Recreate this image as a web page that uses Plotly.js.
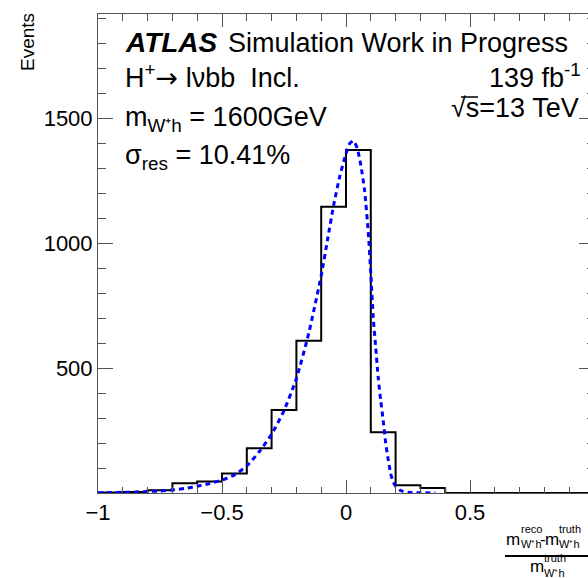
<!DOCTYPE html>
<html>
<head>
<meta charset="utf-8">
<script src="https://cdn.plot.ly/plotly-3.0.1.min.js"></script>
<style>
html,body{margin:0;padding:0;overflow:hidden;background:#fff;}
#chart{width:620px;height:578px;}
</style>
</head>
<body>
<div id="chart"></div>
<script>
// ---- data ----
const binLowEdges = [-1.0,-0.9,-0.8,-0.7,-0.6,-0.5,-0.4,-0.3,-0.2,-0.1,0.0,0.1,0.2,0.3,0.4,0.5,0.6,0.7,0.8,0.9];
const binUpperEnd = 1.0;
const binCounts = [2,4,11,39,46,78,179,332,609,1145,1372,243,31,20,0,0,0,0,0,0];

const fitX = [-1.0,-0.95,-0.9,-0.85,-0.8,-0.75,-0.7,-0.65,-0.6,-0.55,-0.5,-0.45,-0.4,-0.35,-0.3,-0.25,-0.2,-0.15,-0.1,-0.075,-0.05,-0.025,0.0,0.015,0.03,0.045,0.06,0.075,0.09,0.1,0.11,0.12,0.13,0.14,0.15,0.16,0.17,0.18,0.19,0.2,0.22,0.25,0.3,0.36];
const fitY = [1,2,3,4,6,8,12,18,27,38,52,72,108,165,235,330,458,640,870,1010,1150,1267,1358,1398,1408,1380,1310,1210,1040,880,700,580,460,370,290,200,135,78,45,28,10,3,1,0];

const yTickVals = [0,500,1000,1500];
const yTickText = ['', '500', '1000', '1500'];

// ---- geometry helpers (pixel -> paper) ----
const FIG_W = 620, FIG_H = 578;
const M = {l:98, r:26, t:14, b:85};
const PW = FIG_W - M.l - M.r, PH = FIG_H - M.t - M.b;
const BOTTOM = FIG_H - M.b;
const xp = X => (X - M.l) / PW;
const yp = Y => (BOTTOM - Y) / PH;

const FONT = 'Liberation Sans, Arial, Helvetica, sans-serif';

function ann(text, X, Ybase, size, xanchor, opts) {
  opts = opts || {};
  const ya = opts.yanchor || 'bottom';
  let Y;
  if (ya === 'bottom') Y = Ybase + 0.212 * size;
  else if (ya === 'top') Y = Ybase - 0.905 * size;
  else Y = Ybase;
  return Object.assign({
    text: text, xref: 'paper', yref: 'paper', x: xp(X), y: yp(Y),
    xanchor: xanchor, yanchor: ya, showarrow: false, borderpad: 0,
    font: {family: FONT, size: size, color: '#000'}
  }, opts.extra || {});
}

// histogram step line
const stepX = binLowEdges.concat([binUpperEnd]);
const stepY = binCounts.concat([binCounts[binCounts.length - 1]]);

const traces = [
  {x: stepX, y: stepY, type: 'scatter', mode: 'lines',
   line: {shape: 'hv', color: '#000', width: 2}, hoverinfo: 'skip', showlegend: false},
  {x: fitX, y: fitY, type: 'scatter', mode: 'lines',
   line: {color: '#0000ff', width: 3, dash: '5px,4px', shape: 'spline', smoothing: 0.6},
   hoverinfo: 'skip', showlegend: false}
];

const annotations = [
  ann('<b><i>ATLAS</i></b>', 124, 53, 28, 'left'),
  ann('Simulation Work in Progress', 227, 53, 27, 'left'),
  ann('H<sup>+</sup><span style="font-family:DejaVu Sans">→</span> lνbb\u00a0\u00a0Incl.', 124, 88, 27, 'left'),
  ann('m<sub>W⁺h</sub> = 1600GeV', 124, 125, 27, 'left', {yanchor: 'top'}),
  ann('σ<sub>res</sub> = 10.41%', 124, 163, 27, 'left', {yanchor: 'top'}),
  ann('139 fb<sup>-1</sup>', 582, 88, 27, 'right'),
  ann('√s=13 TeV', 580, 118, 27, 'right'),
  // y axis title
  {text: 'Events', xref: 'paper', yref: 'paper', x: xp(27), y: yp(12),
   xanchor: 'center', yanchor: 'top', textangle: -90, showarrow: false, borderpad: 0,
   font: {family: FONT, size: 19, color: '#000'}},
  // x axis title (fraction)
  ann('m', 505, 546, 17, 'left'),
  ann('reco', 520, 534, 11, 'left'),
  ann('W⁺h', 520, 549, 11, 'left'),
  ann('-', 539, 546, 17, 'left'),
  ann('m', 544, 546, 17, 'left'),
  ann('truth', 558, 534, 11, 'left'),
  ann('W⁺h', 558, 549, 11, 'left'),
  ann('m', 529, 573, 17, 'left'),
  ann('truth', 543, 563, 11, 'left'),
  ann('W⁺h', 543, 578, 11, 'left')
];

const shapes = [
  {type: 'line', xref: 'paper', yref: 'paper', x0: xp(505), x1: xp(610), y0: yp(556), y1: yp(556),
   line: {color: '#000', width: 2}},
  // overline of the square root sign
  {type: 'line', xref: 'paper', yref: 'paper', x0: xp(461), x1: xp(478), y0: yp(97), y1: yp(97),
   line: {color: '#000', width: 1.5}}
];

const axisCommon = {
  showline: true, linecolor: '#555', linewidth: 1, mirror: 'allticks',
  ticks: 'inside', tickcolor: '#555', tickwidth: 1,
  showgrid: false, zeroline: false,
  tickfont: {family: FONT, size: 22, color: '#000'}
};

const layout = {
  width: FIG_W, height: FIG_H,
  margin: M,
  paper_bgcolor: '#fff', plot_bgcolor: '#fff',
  showlegend: false,
  xaxis: Object.assign({}, axisCommon, {
    range: [-1, 1], tickmode: 'linear', tick0: 0, dtick: 0.5, ticklen: 13,
    minor: {dtick: 0.1, tick0: 0, ticklen: 6.5, ticks: 'inside', tickcolor: '#555', tickwidth: 1}
  }),
  yaxis: Object.assign({}, axisCommon, {
    range: [0, 1916], tickmode: 'array', tickvals: yTickVals, ticktext: yTickText, ticklen: 15,
    minor: {dtick: 100, tick0: 0, ticklen: 7.5, ticks: 'inside', tickcolor: '#555', tickwidth: 1}
  }),
  annotations: annotations,
  shapes: shapes
};

Plotly.newPlot('chart', traces, layout, {staticPlot: true, displayModeBar: false});
</script>
</body>
</html>
